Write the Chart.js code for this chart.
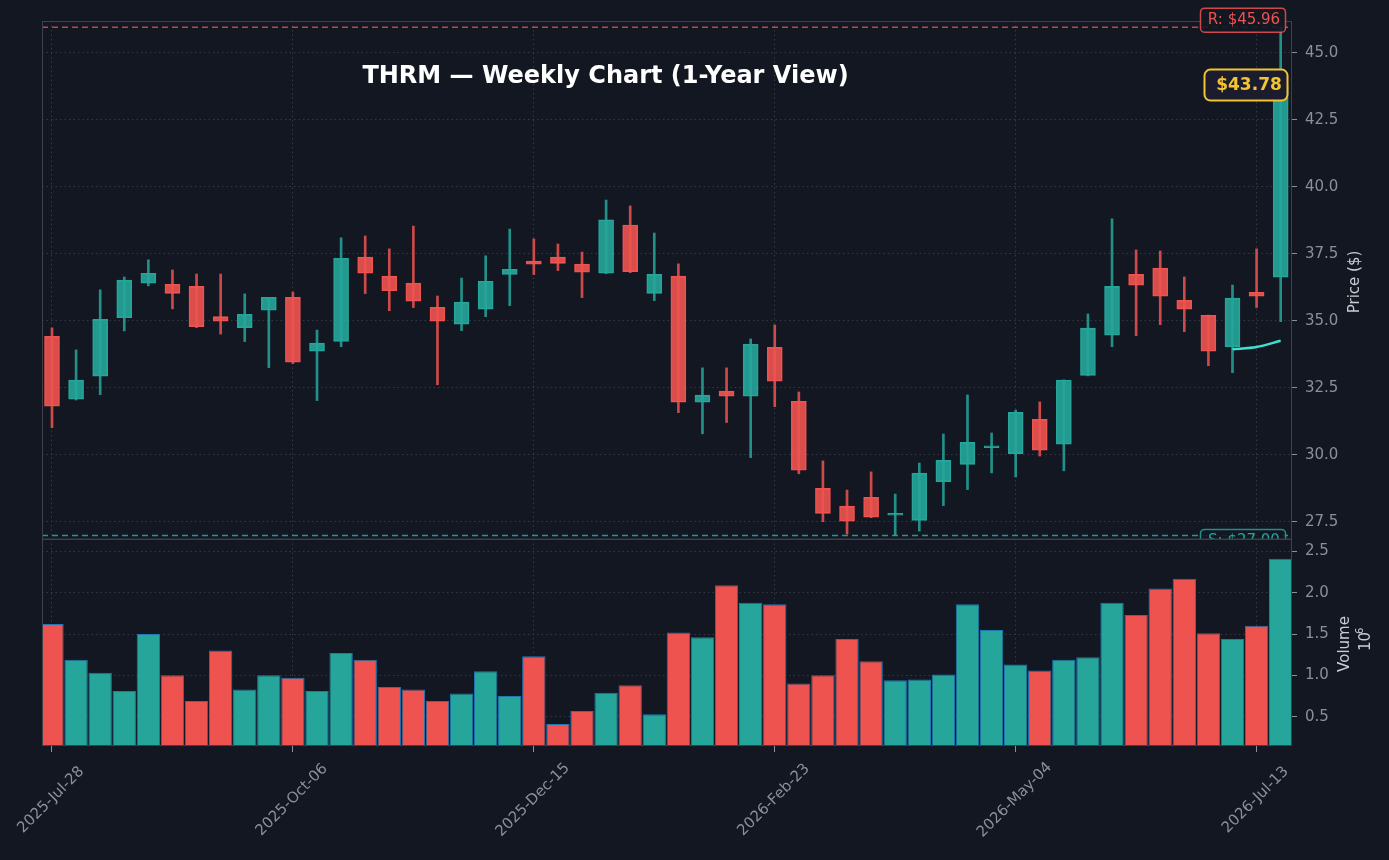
<!DOCTYPE html>
<html>
<head>
<meta charset="utf-8">
<title>THRM Weekly Chart</title>
<script src="https://cdn.jsdelivr.net/npm/chart.js@4.4.1/dist/chart.umd.min.js"></script>
<style>
  html, body { margin: 0; padding: 0; background: #131722; }
  #wrap { position: relative; width: 1389px; height: 860px; }
  #wrap canvas { position: absolute; left: 0; top: 0; }
</style>
</head>
<body>
<div id="wrap">
  <canvas id="priceCanvas" width="1389" height="860"></canvas>
  <canvas id="volumeCanvas" width="1389" height="860"></canvas>
</div>
<script>
// weekly bars, one per week
const weeks = [
  '2025-Jul-28', '2025-Aug-04', '2025-Aug-11', '2025-Aug-18', '2025-Aug-25', '2025-Sep-01',
  '2025-Sep-08', '2025-Sep-15', '2025-Sep-22', '2025-Sep-29', '2025-Oct-06', '2025-Oct-13',
  '2025-Oct-20', '2025-Oct-27', '2025-Nov-03', '2025-Nov-10', '2025-Nov-17', '2025-Nov-24',
  '2025-Dec-01', '2025-Dec-08', '2025-Dec-15', '2025-Dec-22', '2025-Dec-29', '2026-Jan-05',
  '2026-Jan-12', '2026-Jan-19', '2026-Jan-26', '2026-Feb-02', '2026-Feb-09', '2026-Feb-16',
  '2026-Feb-23', '2026-Mar-02', '2026-Mar-09', '2026-Mar-16', '2026-Mar-23', '2026-Mar-30',
  '2026-Apr-06', '2026-Apr-13', '2026-Apr-20', '2026-Apr-27', '2026-May-04', '2026-May-11',
  '2026-May-18', '2026-May-25', '2026-Jun-01', '2026-Jun-08', '2026-Jun-15', '2026-Jun-22',
  '2026-Jun-29', '2026-Jul-06', '2026-Jul-13', '2026-Jul-20'
];
const tickLabels = ['2025-Jul-28', '2025-Oct-06', '2025-Dec-15', '2026-Feb-23', '2026-May-04', '2026-Jul-13'];

const openP = [
  34.43, 32.08, 32.94, 35.12, 36.41, 36.37, 36.29, 35.16, 34.75, 35.40,
  35.88, 33.87, 34.24, 37.38, 36.67, 36.41, 35.51, 34.88, 35.44, 36.74,
  37.23, 37.38, 37.12, 36.78, 38.58, 36.03, 36.67, 31.97, 32.38, 32.19,
  34.02, 32.00, 28.76, 28.09, 28.42, 27.75, 27.56, 29.00, 29.65, 30.27,
  30.05, 31.33, 30.40, 32.97, 34.47, 36.74, 36.97, 35.77, 35.21, 34.03,
  36.07, 36.63
];
const highP = [
  34.74, 33.92, 36.16, 36.64, 37.28, 36.90, 36.75, 36.75, 36.01, 35.88,
  36.08, 34.66, 38.10, 38.17, 37.69, 38.54, 35.93, 36.60, 37.43, 38.43,
  38.06, 37.87, 37.57, 39.51, 39.29, 38.28, 37.13, 33.25, 33.25, 34.33,
  34.85, 32.35, 29.78, 28.69, 29.37, 28.54, 29.70, 30.78, 32.24, 30.82,
  31.67, 31.98, 32.80, 35.26, 38.81, 37.65, 37.61, 36.64, 35.22, 36.34,
  37.69, 45.96
];
const lowP = [
  31.02, 32.05, 32.25, 34.63, 36.31, 35.45, 34.75, 34.51, 34.23, 33.26,
  33.41, 32.03, 34.04, 36.02, 35.38, 35.50, 32.62, 34.64, 35.16, 35.57,
  36.73, 36.88, 35.87, 36.76, 36.80, 35.76, 31.58, 30.79, 31.21, 29.90,
  31.80, 29.30, 27.51, 27.05, 27.66, 27.00, 27.16, 28.11, 28.71, 29.33,
  29.18, 29.96, 29.41, 32.95, 34.04, 34.45, 34.86, 34.60, 33.33, 33.07,
  35.50, 34.97
];
const closeP = [
  31.82, 32.79, 35.06, 36.52, 36.78, 36.03, 34.79, 34.99, 35.25, 35.88,
  33.46, 34.17, 37.34, 36.78, 36.13, 35.74, 34.99, 35.70, 36.48, 36.93,
  37.12, 37.15, 36.82, 38.77, 36.84, 36.74, 31.97, 32.23, 32.19, 34.13,
  32.75, 29.43, 27.82, 27.53, 27.68, 27.79, 29.32, 29.80, 30.47, 30.32,
  31.59, 30.18, 32.79, 34.73, 36.29, 36.33, 35.92, 35.44, 33.87, 35.85,
  35.92, 43.78
];
// volume in millions of shares
const volumeM = [
  1.62, 1.19, 1.03, 0.81, 1.50, 1.00, 0.69, 1.30, 0.83, 1.00,
  0.97, 0.81, 1.27, 1.19, 0.86, 0.83, 0.69, 0.78, 1.05, 0.75,
  1.23, 0.41, 0.57, 0.79, 0.88, 0.53, 1.52, 1.46, 2.09, 1.88,
  1.86, 0.90, 1.00, 1.44, 1.17, 0.94, 0.95, 1.01, 1.86, 1.55,
  1.13, 1.06, 1.19, 1.22, 1.88, 1.73, 2.05, 2.17, 1.51, 1.44,
  1.60, 2.41
];
// short trend line at the right edge
const trendWeeks = ['2026-Jul-06', '2026-Jul-13', '2026-Jul-20'];
const trendValues = [33.94, 34.03, 34.26];

const resistance = 45.96;
const support = 27.00;
const lastPrice = 43.78;
const priceTicks = [27.5, 30.0, 32.5, 35.0, 37.5, 40.0, 42.5, 45.0];
const volumeTicks = [0.5, 1.0, 1.5, 2.0, 2.5];

const UP = '#26a69a';
const DOWN = '#ef5350';
const GRID = '#353945';
const SPINE = '#3d414c';
const TICK_TXT = '#8b8f9a';
const LABEL_TXT = '#c9ccd3';

Chart.defaults.font.family = '"DejaVu Sans", sans-serif';

const isUp = closeP.map((c, i) => c >= openP[i]);
const rgba = (hex, a) => {
  const n = parseInt(hex.slice(1), 16);
  return `rgba(${n >> 16},${(n >> 8) & 255},${n & 255},${a})`;
};

const xIdx = weeks.map((_, i) => i);
const X_MIN = -0.415, X_MAX = 51.47;

function xScaleOpts(drawTicks) {
  return {
    type: 'linear',
    min: X_MIN,
    max: X_MAX,
    offset: false,
    afterBuildTicks: s => { s.ticks = tickLabels.map(l => ({value: weeks.indexOf(l)})); },
    afterFit: s => { s.height = 0; },
    ticks: {display: false},
    grid: {offset: false, color: GRID, lineWidth: 1, drawTicks: drawTicks, tickLength: 6, tickColor: TICK_TXT, tickWidth: 1},
    border: {display: false, dash: [1.5, 3]}
  };
}

function yScaleOpts(min, max, ticks) {
  return {
    position: 'right',
    min: min,
    max: max,
    afterBuildTicks: s => { s.ticks = ticks.map(v => ({value: v})); },
    afterFit: s => { s.width = 97; },
    ticks: {color: TICK_TXT, font: {size: 15}, padding: 8, callback: v => v.toFixed(1)},
    grid: {color: GRID, lineWidth: 1, drawTicks: true, tickLength: 5, tickColor: TICK_TXT, tickWidth: 1},
    border: {display: false, dash: [1.5, 3]}
  };
}

function labelBox(ctx, x, y, w, h, r, stroke, lw, fill) {
  ctx.beginPath();
  ctx.roundRect(x, y, w, h, r);
  ctx.fillStyle = fill;
  ctx.fill();
  ctx.lineWidth = lw;
  ctx.strokeStyle = stroke;
  ctx.stroke();
}

const priceDecor = {
  id: 'priceDecor',
  beforeDatasetsDraw(chart) {
    const {ctx, chartArea: a, scales: {y}} = chart;
    ctx.save();
    ctx.lineWidth = 1.5;
    ctx.setLineDash([6, 4]);
    [[resistance, rgba(DOWN, 0.8)], [support, rgba(UP, 0.9)]].forEach(([v, c]) => {
      const py = y.getPixelForValue(v);
      ctx.strokeStyle = c;
      ctx.beginPath();
      ctx.moveTo(a.left, py);
      ctx.lineTo(a.right, py);
      ctx.stroke();
    });
    ctx.restore();
  },
  afterDraw(chart) {
    const {ctx, chartArea: a, scales: {y}} = chart;
    ctx.save();
    ctx.strokeStyle = SPINE;
    ctx.lineWidth = 1;
    ctx.strokeRect(a.left + 0.5, a.top + 0.5, a.width - 1, a.height);

    // title
    ctx.fillStyle = '#ffffff';
    ctx.font = 'bold 24px "DejaVu Sans"';
    ctx.textAlign = 'center';
    ctx.textBaseline = 'middle';
    ctx.fillText('THRM \u2014 Weekly Chart (1-Year View)', 605.5, 77);

    // resistance label
    const ry = y.getPixelForValue(resistance);
    labelBox(ctx, 1200.5, ry - 19, 85, 24, 4, rgba(DOWN, 0.85), 1.5, rgba('#131722', 0.9));
    ctx.fillStyle = DOWN;
    ctx.font = '15px "DejaVu Sans"';
    ctx.fillText('R: $' + resistance.toFixed(2), 1244, ry - 7);

    // support label, cut by the price panel bottom
    const sy = y.getPixelForValue(support);
    ctx.save();
    ctx.beginPath();
    ctx.rect(0, 0, chart.width, a.bottom);
    ctx.clip();
    labelBox(ctx, 1200.5, sy - 6, 85, 24, 4, rgba(UP, 0.85), 1.5, rgba('#131722', 0.9));
    ctx.fillStyle = UP;
    ctx.fillText('S: $' + support.toFixed(2), 1244, sy + 6);
    ctx.restore();

    // last price tag
    const ly = y.getPixelForValue(lastPrice);
    labelBox(ctx, 1204.5, ly - 16, 83, 31, 6, '#f4c430', 2, '#1b1d2e');
    ctx.fillStyle = '#f4c430';
    ctx.font = 'bold 17px "DejaVu Sans"';
    ctx.fillText('$' + lastPrice.toFixed(2), 1249, ly);

    // axis label
    ctx.fillStyle = LABEL_TXT;
    ctx.font = '15px "DejaVu Sans"';
    ctx.translate(1355, 282);
    ctx.rotate(-Math.PI / 2);
    ctx.fillText('Price ($)', 0, 0);
    ctx.restore();
  }
};

const volumeDecor = {
  id: 'volumeDecor',
  afterDraw(chart) {
    const {ctx, chartArea: a, scales: {x}} = chart;
    ctx.save();
    ctx.strokeStyle = SPINE;
    ctx.lineWidth = 1;
    ctx.strokeRect(a.left + 0.5, a.top, a.width - 1, a.height - 0.5);

    ctx.fillStyle = TICK_TXT;
    ctx.font = '15px "DejaVu Sans"';
    ctx.textAlign = 'center';
    ctx.textBaseline = 'middle';
    tickLabels.forEach(l => {
      const px = x.getPixelForValue(weeks.indexOf(l));
      ctx.save();
      ctx.translate(px - 1, 800);
      ctx.rotate(-Math.PI / 4);
      ctx.fillText(l, 0, 0);
      ctx.restore();
    });

    ctx.fillStyle = LABEL_TXT;
    ctx.save();
    ctx.translate(1345, 644);
    ctx.rotate(-Math.PI / 2);
    ctx.fillText('Volume', 0, 0);
    ctx.restore();
    ctx.save();
    ctx.translate(1366, 639);
    ctx.rotate(-Math.PI / 2);
    ctx.textAlign = 'left';
    ctx.fillText('10', -12, 0);
    ctx.font = '10px "DejaVu Sans"';
    ctx.fillText('6', 5, -6);
    ctx.restore();
    ctx.restore();
  }
};

new Chart(document.getElementById('priceCanvas'), {
  type: 'bar',
  data: {
    datasets: [
      {
        label: 'Body',
        data: xIdx.map(i => ({x: i, y: [openP[i], closeP[i]]})),
        backgroundColor: isUp.map(u => rgba(u ? UP : DOWN, 0.9)),
        borderColor: isUp.map(u => u ? UP : DOWN),
        borderWidth: 1,
        borderSkipped: false,
        barThickness: 15,
        minBarLength: 2,
        grouped: false,
        order: 1
      },
      {
        label: 'Wick',
        data: xIdx.map(i => ({x: i, y: [lowP[i], highP[i]]})),
        backgroundColor: isUp.map(u => rgba(u ? UP : DOWN, 0.85)),
        borderWidth: 0,
        barThickness: 2,
        grouped: false,
        order: 2
      },
      {
        type: 'line',
        label: 'Trend',
        data: trendWeeks.map((w, k) => ({x: weeks.indexOf(w), y: trendValues[k]})),
        borderColor: '#40e0d0',
        borderWidth: 2.5,
        pointRadius: 0,
        tension: 0.3,
        order: 0
      }
    ]
  },
  options: {
    responsive: false,
    animation: false,
    layout: {padding: {left: 42, top: 21, right: 0, bottom: 321}},
    plugins: {legend: {display: false}, tooltip: {enabled: false}},
    scales: {
      x: xScaleOpts(false),
      y: yScaleOpts(26.865, 46.19, priceTicks)
    }
  },
  plugins: [priceDecor]
});

new Chart(document.getElementById('volumeCanvas'), {
  type: 'bar',
  data: {
    datasets: [{
      label: 'Volume',
      data: xIdx.map(i => ({x: i, y: volumeM[i]})),
      backgroundColor: isUp.map(u => u ? UP : DOWN),
      borderColor: '#1f77b4',
      borderWidth: 1,
      borderSkipped: false,
      barPercentage: 1,
      categoryPercentage: 0.97
    }]
  },
  options: {
    responsive: false,
    animation: false,
    layout: {padding: {left: 42, top: 539, right: 0, bottom: 114}},
    plugins: {legend: {display: false}, tooltip: {enabled: false}},
    scales: {
      x: xScaleOpts(true),
      y: yScaleOpts(0.145, 2.65, volumeTicks)
    }
  },
  plugins: [volumeDecor]
});
</script>
</body>
</html>
